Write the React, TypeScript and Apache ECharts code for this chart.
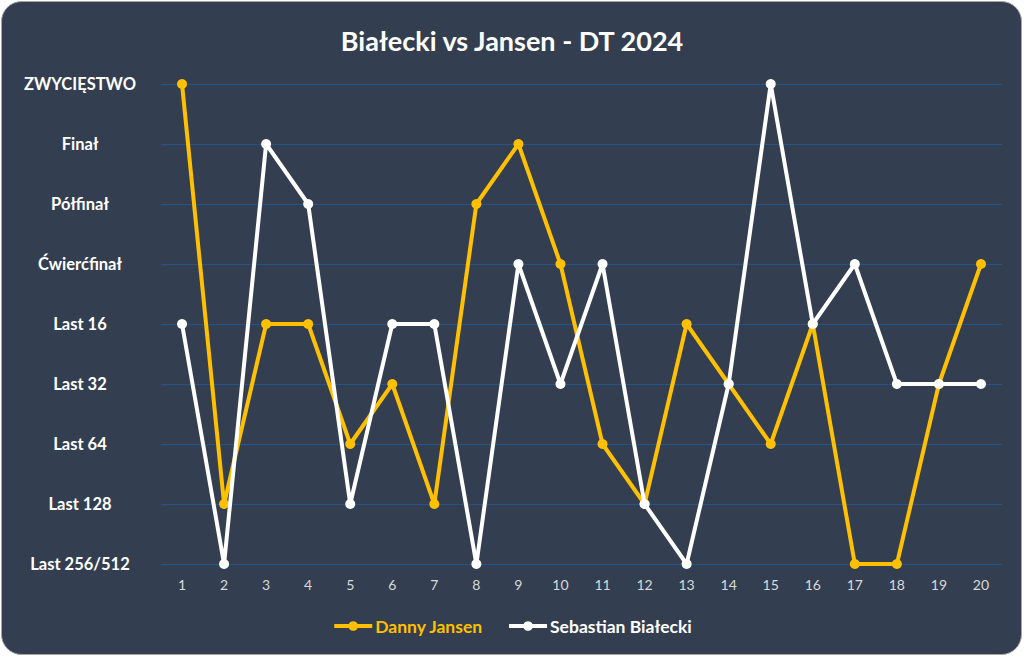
import React, { useEffect, useRef } from "react";
import * as echarts from "echarts";

const TITLE = "Białecki vs Jansen - DT 2024";
const CATEGORIES = ["1","2","3","4","5","6","7","8","9","10","11","12","13","14","15","16","17","18","19","20"];
const LEVEL_LABELS = ["Last 256/512","Last 128","Last 64","Last 32","Last 16","Ćwierćfinał","Półfinał","Finał","ZWYCIĘSTWO"];
const JANSEN = [8,1,4,4,2,3,1,6,7,5,2,1,4,3,2,4,0,0,3,5];
const BIALECKI = [4,0,7,6,1,4,4,0,5,3,5,1,0,3,8,4,5,3,3,3];

const FONT = "Lato, 'Open Sans', sans-serif";

export default function App() {
  const ref = useRef<HTMLDivElement>(null);
  useEffect(() => {
    const chart = echarts.init(ref.current!, null, { renderer: "svg" });
    chart.setOption({
      animation: false,
      backgroundColor: "#ffffff",
      graphic: [
        {
          type: "rect",
          z: -10,
          shape: { x: 1.5, y: 1.5, width: 1020, height: 653, r: 20 },
          style: { fill: "#333f50", stroke: "#a6a6a6", lineWidth: 1 },
        },
      ],
      title: {
        text: TITLE,
        left: "center",
        top: 22,
        textStyle: { color: "#ffffff", fontSize: 27, fontWeight: "bold", fontFamily: FONT },
      },
      legend: {
        bottom: 17,
        left: "center",
        itemWidth: 38,
        itemHeight: 12,
        itemGap: 24,
        lineStyle: { width: 4 },
        textStyle: { fontSize: 17.5, fontWeight: "bold", fontFamily: FONT, padding: [0, 0, 0, -2] },
        data: [
          { name: "Danny Jansen", textStyle: { color: "#ffc000" } },
          { name: "Sebastian Białecki", textStyle: { color: "#ffffff" } },
        ],
      },
      grid: { left: 161, right: 22, top: 84, bottom: 93, containLabel: false },
      xAxis: {
        type: "category",
        data: CATEGORIES,
        boundaryGap: true,
        axisLine: { show: false },
        axisTick: { show: false },
        axisLabel: { color: "#d9d9d9", fontSize: 14, fontFamily: FONT, margin: 13 },
      },
      yAxis: {
        type: "value",
        min: 0,
        max: 8,
        interval: 1,
        axisLine: { show: false },
        axisTick: { show: false },
        splitLine: { lineStyle: { color: "#24558a", width: 1 } },
        axisLabel: {
          color: "#ffffff",
          fontSize: 16.5,
          fontWeight: "bold",
          fontFamily: FONT,
          align: "center",
          margin: 81,
          formatter: (v: number) => LEVEL_LABELS[v] ?? "",
        },
      },
      series: [
        {
          name: "Danny Jansen",
          type: "line",
          data: JANSEN,
          symbol: "circle",
          symbolSize: 10,
          lineStyle: { color: "#ffc000", width: 4 },
          itemStyle: { color: "#ffc000" },
          z: 2,
        },
        {
          name: "Sebastian Białecki",
          type: "line",
          data: BIALECKI,
          symbol: "circle",
          symbolSize: 10,
          lineStyle: { color: "#ffffff", width: 4 },
          itemStyle: { color: "#ffffff" },
          z: 3,
        },
      ],
    });
    return () => chart.dispose();
  }, []);
  return (
    <div
      ref={ref}
      style={{ position: "absolute", left: 0, top: 0, width: 1024, height: 657 }}
    />
  );
}
